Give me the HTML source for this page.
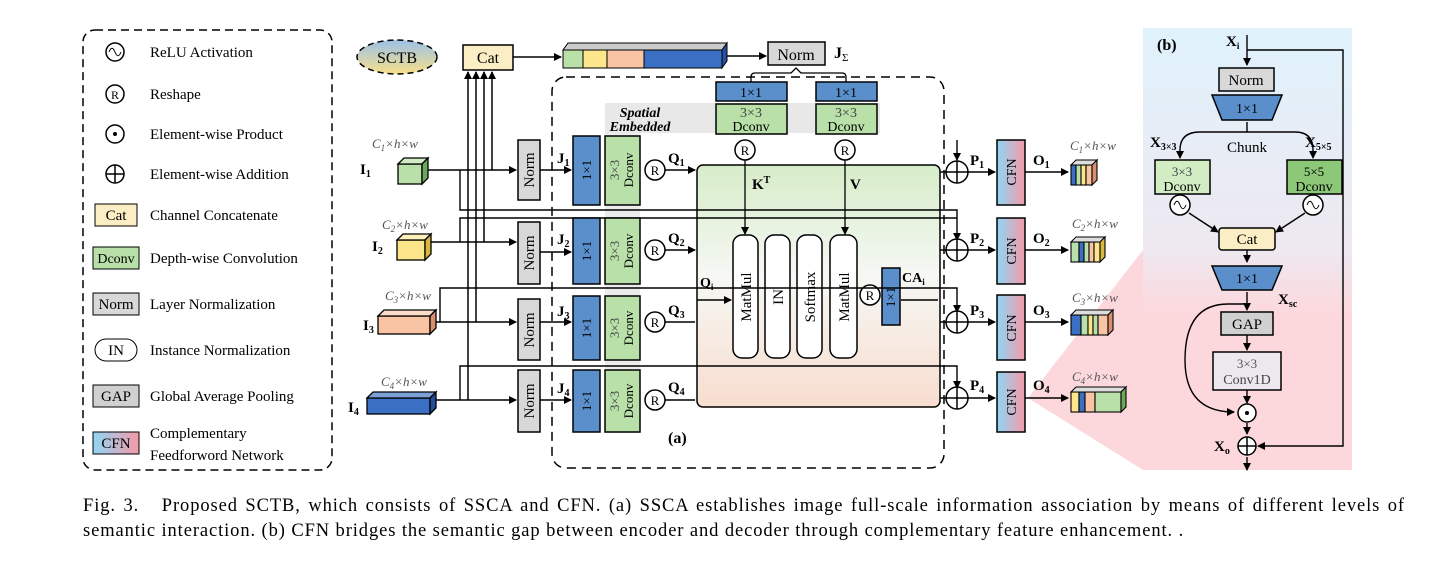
<!DOCTYPE html>
<html><head><meta charset="utf-8"><style>
body{margin:0;background:#fff;width:1437px;height:563px;overflow:hidden}
svg{font-family:"Liberation Serif",serif}
.cap{position:absolute;left:83px;width:1322px;font:18.5px "Liberation Serif",serif;letter-spacing:0.9px;color:#000;white-space:nowrap}
.l1{top:496px;text-align:justify;text-align-last:justify;white-space:normal}
.l2{top:521px}
</style></head><body>
<svg width="1437" height="563" viewBox="0 0 1437 563" style="position:absolute;left:0;top:0">
<defs>
<marker id="a" markerWidth="8" markerHeight="8" refX="7" refY="4" orient="auto" markerUnits="userSpaceOnUse"><path d="M0,0L8,4L0,8z" fill="#000"/></marker>
<linearGradient id="cfn" x1="0" x2="1"><stop offset="0" stop-color="#8fd6f5"/><stop offset="1" stop-color="#f59aa8"/></linearGradient>
<linearGradient id="inner" x1="0" y1="0" x2="0" y2="1"><stop offset="0" stop-color="#d6ecc8"/><stop offset="0.45" stop-color="#f6f8f4"/><stop offset="1" stop-color="#f8ddd0"/></linearGradient>
<linearGradient id="pb" x1="0" y1="0" x2="0" y2="1"><stop offset="0" stop-color="#dff2fc"/><stop offset="0.5" stop-color="#eee8f0"/><stop offset="0.65" stop-color="#fcd8dc"/><stop offset="1" stop-color="#fcd8dc"/></linearGradient>
<linearGradient id="sc" x1="0" y1="0" x2="0" y2="1"><stop offset="0" stop-color="#9cc0e8"/><stop offset="1" stop-color="#f7e08a"/></linearGradient>
</defs>
<rect x="1143" y="28" width="209" height="442" fill="url(#pb)"/>
<path d="M1028,398L1143,250V470z" fill="#fcd8dc"/>
<g stroke="#000" fill="none" stroke-width="1.5">
<rect x="83" y="30" width="249" height="440" rx="12" stroke-dasharray="8,5"/>
</g>
<g font-size="15">
<circle cx="115" cy="52" r="9" fill="none" stroke="#000" stroke-width="1.5"/><path d="M109,52c2,-5 4,-5 6,0s4,5 6,0" fill="none" stroke="#000"/>
<text x="150" y="57">ReLU Activation</text>
<circle cx="115" cy="94" r="9" fill="none" stroke="#000" stroke-width="1.5"/><text x="115" y="99" text-anchor="middle" font-size="12">R</text>
<text x="150" y="99">Reshape</text>
<circle cx="115" cy="134" r="9" fill="none" stroke="#000" stroke-width="1.5"/><circle cx="115" cy="134" r="2" fill="#000"/>
<text x="150" y="139">Element-wise Product</text>
<circle cx="115" cy="174" r="9" fill="none" stroke="#000" stroke-width="1.5"/><path d="M106,174h18M115,165v18" stroke="#000" stroke-width="1.5"/>
<text x="150" y="179">Element-wise Addition</text>
<rect x="95" y="204" width="42" height="22" fill="#fbeec4" stroke="#000"/><text x="116" y="220" text-anchor="middle">Cat</text>
<text x="150" y="220">Channel Concatenate</text>
<rect x="93" y="247" width="46" height="22" fill="#b8e0a8" stroke="#000"/><text x="116" y="263" text-anchor="middle" font-size="14">Dconv</text>
<text x="150" y="263">Depth-wise Convolution</text>
<rect x="93" y="293" width="46" height="22" fill="#d8d8d8" stroke="#000"/><text x="116" y="309" text-anchor="middle">Norm</text>
<text x="150" y="309">Layer Normalization</text>
<rect x="95" y="339" width="42" height="22" rx="11" fill="#fff" stroke="#000"/><text x="116" y="355" text-anchor="middle">IN</text>
<text x="150" y="355">Instance Normalization</text>
<rect x="93" y="385" width="46" height="22" fill="#d0d0d0" stroke="#000"/><text x="116" y="401" text-anchor="middle">GAP</text>
<text x="150" y="401">Global Average Pooling</text>
<rect x="93" y="432" width="46" height="22" fill="url(#cfn)" stroke="#000"/><text x="116" y="448" text-anchor="middle">CFN</text>
<text x="150" y="438">Complementary</text><text x="150" y="460">Feedforword Network</text>
</g>
<ellipse cx="397" cy="57" rx="40" ry="17" fill="url(#sc)" stroke="#000" stroke-width="1.5" stroke-dasharray="6,4"/>
<text x="397" y="63" text-anchor="middle" font-size="16">SCTB</text>
<rect x="463" y="45" width="50" height="25" fill="#fbeec4" stroke="#000" stroke-width="1.5"/><text x="488" y="63" text-anchor="middle" font-size="16">Cat</text>
<line x1="513" y1="57" x2="561" y2="57" stroke="#000" stroke-width="1.5" marker-end="url(#a)"/>
<path d="M563,50l5,-7h159l-5,7z" fill="#ccc" stroke="#000"/>
<rect x="563" y="50" width="20" height="18" fill="#b8e0a8" stroke="#000"/>
<rect x="583" y="50" width="24" height="18" fill="#fce58a" stroke="#000"/>
<rect x="607" y="50" width="37" height="18" fill="#f9c4a4" stroke="#000"/>
<rect x="644" y="50" width="78" height="18" fill="#3a6fc4" stroke="#000"/>
<path d="M722,50l5,-7v18l-5,7z" fill="#2850a0" stroke="#000"/>
<line x1="727" y1="56" x2="766" y2="56" stroke="#000" stroke-width="1.5" marker-end="url(#a)"/>
<rect x="768" y="42" width="57" height="23" fill="#d8d8d8" stroke="#000" stroke-width="1.5"/><text x="796" y="60" text-anchor="middle" font-size="16">Norm</text>
<text x="834" y="58" font-size="16" font-weight="bold">J<tspan font-size="11" font-weight="normal" dy="3">Σ</tspan></text>
<path d="M751,82v-5q0,-4 4,-4h36l5,-5l5,5h41q4,0 4,4v5" fill="none" stroke="#000" stroke-width="1.3"/>
<g stroke="#000" stroke-width="1.5" fill="none">
<path d="M468,400V72" marker-end="url(#a)"/>
<path d="M476,322V72" marker-end="url(#a)"/>
<path d="M484,242V72" marker-end="url(#a)"/>
<path d="M492,170V72" marker-end="url(#a)"/>
</g>
<rect x="552" y="77" width="392" height="391" rx="14" fill="none" stroke="#000" stroke-width="1.5" stroke-dasharray="9,6"/>
<rect x="605" y="103" width="275" height="30" fill="#e8e8e8"/>
<rect x="605" y="133" width="35" height="300" fill="#ececec"/>
<text x="640" y="117" font-size="14" font-style="italic" font-weight="bold" text-anchor="middle">Spatial</text>
<text x="640" y="131" font-size="14" font-style="italic" font-weight="bold" text-anchor="middle">Embedded</text>
<g font-size="14" text-anchor="middle">
<rect x="716" y="82" width="71" height="19" fill="#5b8fcc" stroke="#000" stroke-width="1.5"/><text x="751" y="97">1×1</text>
<rect x="816" y="82" width="61" height="19" fill="#5b8fcc" stroke="#000" stroke-width="1.5"/><text x="846" y="97">1×1</text>
<rect x="716" y="104" width="71" height="30" fill="#b8e0a8" stroke="#000" stroke-width="1.5"/><text x="751" y="117" fill="#444">3×3</text><text x="751" y="131">Dconv</text>
<rect x="816" y="104" width="61" height="30" fill="#b8e0a8" stroke="#000" stroke-width="1.5"/><text x="846" y="117" fill="#444">3×3</text><text x="846" y="131">Dconv</text>
</g>
<rect x="697" y="165" width="243" height="242" rx="6" fill="url(#inner)" stroke="#000" stroke-width="1.5"/>
<g stroke="#000" stroke-width="1.3" fill="none">
<path d="M745,160V234" marker-end="url(#a)"/><path d="M845,160V234" marker-end="url(#a)"/>
</g>
<g fill="#fff" stroke="#000" stroke-width="1.5">
<circle cx="745" cy="150" r="10"/><circle cx="845" cy="150" r="10"/>
<rect x="733" y="235" width="25" height="123" rx="9"/><rect x="765" y="235" width="25" height="123" rx="9"/>
<rect x="797" y="235" width="25" height="123" rx="9"/><rect x="830" y="235" width="27" height="123" rx="9"/>
<circle cx="870" cy="295" r="10"/>
</g>
<text x="745" y="155" text-anchor="middle" font-size="13">R</text><text x="845" y="155" text-anchor="middle" font-size="13">R</text><text x="870" y="300" text-anchor="middle" font-size="13">R</text>
<text x="752" y="189" font-size="15" font-weight="bold">K<tspan font-size="10" dy="-6">T</tspan></text>
<text x="850" y="189" font-size="15" font-weight="bold">V</text>
<g font-size="15" text-anchor="middle">
<text transform="translate(751,297) rotate(-90)">MatMul</text>
<text transform="translate(783,297) rotate(-90)">IN</text>
<text transform="translate(815,297) rotate(-90)">Softmax</text>
<text transform="translate(849,297) rotate(-90)">MatMul</text>
</g>
<rect x="882" y="268" width="18" height="57" fill="#5b8fcc" stroke="#000" stroke-width="1.5"/>
<text transform="translate(895,297) rotate(-90)" font-size="13" text-anchor="middle">1×1</text>
<text x="902" y="282" font-size="14" font-weight="bold">CA<tspan font-size="9" dy="3">i</tspan></text>
<text x="700" y="287" font-size="14" font-weight="bold">Q<tspan font-size="9" dy="3">i</tspan></text>
<g stroke="#000" stroke-width="1.4" fill="none">
<path d="M697,300H731" marker-end="url(#a)"/>
<path d="M901,300H938"/>
<path d="M460,170V210H957V240" marker-end="url(#a)"/>
<path d="M460,242V218H957"/>
<path d="M440,322V288H957V312" marker-end="url(#a)"/>
<path d="M460,400V366H957V388" marker-end="url(#a)"/>
<path d="M957,140V160" marker-end="url(#a)"/>
</g>
<g stroke="#000" stroke-width="1.4" fill="none">
<path d="M428,170H516" marker-end="url(#a)"/><path d="M540,170H571" marker-end="url(#a)"/><path d="M665,170H695" marker-end="url(#a)"/>
<path d="M428,242H516" marker-end="url(#a)"/><path d="M540,252H571" marker-end="url(#a)"/><path d="M665,250H695" marker-end="url(#a)"/>
<path d="M436,322H516" marker-end="url(#a)"/><path d="M540,322H571" marker-end="url(#a)"/><path d="M665,322H695"/>
<path d="M436,400H516" marker-end="url(#a)"/><path d="M540,400H571" marker-end="url(#a)"/><path d="M665,400H695"/>
<path d="M940,172H946M940,250H946M940,322H946M940,398H946"/>
<path d="M968,172H995" marker-end="url(#a)"/><path d="M968,250H995" marker-end="url(#a)"/><path d="M968,322H995" marker-end="url(#a)"/><path d="M968,398H995" marker-end="url(#a)"/>
<path d="M1025,172H1068" marker-end="url(#a)"/><path d="M1025,250H1068" marker-end="url(#a)"/><path d="M1025,322H1068" marker-end="url(#a)"/><path d="M1025,398H1068" marker-end="url(#a)"/>
</g>
<g font-size="15">
<g stroke="#000" stroke-width="1.5">
<rect x="518" y="140" width="22" height="60" fill="#d8d8d8"/><rect x="518" y="222" width="22" height="62" fill="#d8d8d8"/>
<rect x="518" y="299" width="22" height="61" fill="#d8d8d8"/><rect x="518" y="370" width="22" height="62" fill="#d8d8d8"/>
<rect x="573" y="136" width="27" height="69" fill="#5b8fcc"/><rect x="573" y="218" width="27" height="66" fill="#5b8fcc"/>
<rect x="573" y="296" width="27" height="64" fill="#5b8fcc"/><rect x="573" y="370" width="27" height="62" fill="#5b8fcc"/>
<rect x="605" y="136" width="35" height="69" fill="#b8e0a8"/><rect x="605" y="218" width="35" height="66" fill="#b8e0a8"/>
<rect x="605" y="296" width="35" height="64" fill="#b8e0a8"/><rect x="605" y="370" width="35" height="62" fill="#b8e0a8"/>
<g fill="#fff"><circle cx="655" cy="170" r="10"/><circle cx="655" cy="250" r="10"/><circle cx="655" cy="322" r="10"/><circle cx="655" cy="400" r="10"/></g>
<g fill="url(#cfn)"><rect x="997" y="140" width="28" height="65"/><rect x="997" y="218" width="28" height="66"/><rect x="997" y="295" width="28" height="65"/><rect x="997" y="372" width="28" height="60"/></g>
<g fill="#fff"><circle cx="957" cy="172" r="11"/><circle cx="957" cy="250" r="11"/><circle cx="957" cy="322" r="11"/><circle cx="957" cy="398" r="11"/></g>
<path d="M946,172h22M957,161v22M946,250h22M957,239v22M946,322h22M957,311v22M946,398h22M957,387v22" fill="none"/>
</g>
<g text-anchor="middle">
<text transform="translate(534,170) rotate(-90)">Norm</text><text transform="translate(534,253) rotate(-90)">Norm</text>
<text transform="translate(534,330) rotate(-90)">Norm</text><text transform="translate(534,401) rotate(-90)">Norm</text>
<text transform="translate(591,170) rotate(-90)" font-size="13">1×1</text><text transform="translate(591,251) rotate(-90)" font-size="13">1×1</text>
<text transform="translate(591,328) rotate(-90)" font-size="13">1×1</text><text transform="translate(591,401) rotate(-90)" font-size="13">1×1</text>
<g font-size="13"><text transform="translate(619,170) rotate(-90)" fill="#444">3×3</text><text transform="translate(633,170) rotate(-90)">Dconv</text>
<text transform="translate(619,251) rotate(-90)" fill="#444">3×3</text><text transform="translate(633,251) rotate(-90)">Dconv</text>
<text transform="translate(619,328) rotate(-90)" fill="#444">3×3</text><text transform="translate(633,328) rotate(-90)">Dconv</text>
<text transform="translate(619,401) rotate(-90)" fill="#444">3×3</text><text transform="translate(633,401) rotate(-90)">Dconv</text></g>
<g font-size="13"><text x="655" y="175">R</text><text x="655" y="255">R</text><text x="655" y="327">R</text><text x="655" y="405">R</text></g>
<g font-size="14"><text transform="translate(1016,172) rotate(-90)">CFN</text><text transform="translate(1016,251) rotate(-90)">CFN</text>
<text transform="translate(1016,328) rotate(-90)">CFN</text><text transform="translate(1016,402) rotate(-90)">CFN</text></g>
</g>
<g font-weight="bold" font-size="15">
<text x="557" y="163">J<tspan font-size="10" dy="3">1</tspan></text><text x="557" y="244">J<tspan font-size="10" dy="3">2</tspan></text>
<text x="557" y="316">J<tspan font-size="10" dy="3">3</tspan></text><text x="557" y="393">J<tspan font-size="10" dy="3">4</tspan></text>
<text x="668" y="163">Q<tspan font-size="10" dy="3">1</tspan></text><text x="668" y="243">Q<tspan font-size="10" dy="3">2</tspan></text>
<text x="668" y="315">Q<tspan font-size="10" dy="3">3</tspan></text><text x="668" y="392">Q<tspan font-size="10" dy="3">4</tspan></text>
<text x="970" y="165">P<tspan font-size="10" dy="3">1</tspan></text><text x="970" y="243">P<tspan font-size="10" dy="3">2</tspan></text>
<text x="970" y="315">P<tspan font-size="10" dy="3">3</tspan></text><text x="970" y="390">P<tspan font-size="10" dy="3">4</tspan></text>
<text x="1033" y="165">O<tspan font-size="10" dy="3">1</tspan></text><text x="1033" y="243">O<tspan font-size="10" dy="3">2</tspan></text>
<text x="1033" y="315">O<tspan font-size="10" dy="3">3</tspan></text><text x="1033" y="390">O<tspan font-size="10" dy="3">4</tspan></text>
<text x="360" y="174">I<tspan font-size="10" dy="3">1</tspan></text><text x="372" y="251">I<tspan font-size="10" dy="3">2</tspan></text>
<text x="363" y="330">I<tspan font-size="10" dy="3">3</tspan></text><text x="348" y="412">I<tspan font-size="10" dy="3">4</tspan></text>
<text x="668" y="443" font-size="16">(a)</text>
</g>
<g font-size="13" font-style="italic" fill="#555">
<text x="372" y="148">C<tspan font-size="9" dy="3">1</tspan><tspan dy="-3">×h×w</tspan></text>
<text x="382" y="229">C<tspan font-size="9" dy="3">2</tspan><tspan dy="-3">×h×w</tspan></text>
<text x="385" y="300">C<tspan font-size="9" dy="3">3</tspan><tspan dy="-3">×h×w</tspan></text>
<text x="381" y="386">C<tspan font-size="9" dy="3">4</tspan><tspan dy="-3">×h×w</tspan></text>
<text x="1070" y="150">C<tspan font-size="9" dy="3">1</tspan><tspan dy="-3">×h×w</tspan></text>
<text x="1072" y="228">C<tspan font-size="9" dy="3">2</tspan><tspan dy="-3">×h×w</tspan></text>
<text x="1072" y="302">C<tspan font-size="9" dy="3">3</tspan><tspan dy="-3">×h×w</tspan></text>
<text x="1072" y="381">C<tspan font-size="9" dy="3">4</tspan><tspan dy="-3">×h×w</tspan></text>
</g>
</g>
<g stroke="#000" stroke-width="1.3">
<rect x="398" y="164" width="24" height="20" fill="#b8e0a8"/><path d="M398,164l6,-6h24l-6,6z" fill="#d2ecc4"/><path d="M422,164l6,-6v20l-6,6z" fill="#6ca85a"/>
<rect x="397" y="240" width="28" height="20" fill="#fce58a"/><path d="M397,240l6,-6h28l-6,6z" fill="#fdf0b8"/><path d="M425,240l6,-6v20l-6,6z" fill="#d8b840"/>
<rect x="378" y="316" width="52" height="18" fill="#f9c4a4"/><path d="M378,316l6,-6h52l-6,6z" fill="#fbdcc8"/><path d="M430,316l6,-6v18l-6,6z" fill="#d89070"/>
<rect x="367" y="398" width="63" height="16" fill="#3a6fc4"/><path d="M367,398l6,-6h63l-6,6z" fill="#7ba0d8"/><path d="M430,398l6,-6v16l-6,6z" fill="#244c98"/>
</g>
<g stroke="#000" stroke-width="1.1">
<rect x="1071" y="165" width="5" height="20" fill="#3a6fc4"/><rect x="1076" y="165" width="5" height="20" fill="#b8e0a8"/><rect x="1081" y="165" width="5" height="20" fill="#fce58a"/><rect x="1086" y="165" width="6" height="20" fill="#f9c4a4"/><path d="M1071,165l5,-5h21l-5,5z" fill="#ddd"/><path d="M1092,165l5,-5v20l-5,5z" fill="#d89070"/>
<rect x="1071" y="242" width="8" height="20" fill="#b8e0a8"/><rect x="1079" y="242" width="5" height="20" fill="#3a6fc4"/><rect x="1084" y="242" width="5" height="20" fill="#b8e0a8"/><rect x="1089" y="242" width="5" height="20" fill="#f9c4a4"/><rect x="1094" y="242" width="6" height="20" fill="#fce58a"/><path d="M1071,242l5,-5h29l-5,5z" fill="#ddd"/><path d="M1100,242l5,-5v20l-5,5z" fill="#d8b840"/>
<rect x="1071" y="315" width="10" height="20" fill="#3a6fc4"/><rect x="1081" y="315" width="7" height="20" fill="#b8e0a8"/><rect x="1088" y="315" width="5" height="20" fill="#fce58a"/><rect x="1093" y="315" width="5" height="20" fill="#b8e0a8"/><rect x="1098" y="315" width="10" height="20" fill="#f9c4a4"/><path d="M1071,315l5,-5h37l-5,5z" fill="#ddd"/><path d="M1108,315l5,-5v20l-5,5z" fill="#d89070"/>
<rect x="1071" y="392" width="8" height="20" fill="#fce58a"/><rect x="1079" y="392" width="6" height="20" fill="#3a6fc4"/><rect x="1085" y="392" width="10" height="20" fill="#f9c4a4"/><rect x="1095" y="392" width="26" height="20" fill="#b8e0a8"/><path d="M1071,392l5,-5h50l-5,5z" fill="#ddd"/><path d="M1121,392l5,-5v20l-5,5z" fill="#6ca85a"/>
</g>
<g stroke="#000" stroke-width="1.4" fill="none">
<path d="M1247,35V65" marker-end="url(#a)"/>
<path d="M1247,50H1343V446H1258" marker-end="url(#a)"/>
<path d="M1247,122V132M1180,150Q1180,132 1200,132H1295Q1313,132 1313,150"/>
<path d="M1180,150V158" marker-end="url(#a)"/><path d="M1313,150V158" marker-end="url(#a)"/>
<path d="M1189,213L1218,232" marker-end="url(#a)"/><path d="M1305,213L1276,232" marker-end="url(#a)"/>
<path d="M1247,250V262" marker-end="url(#a)"/><path d="M1247,292V310" marker-end="url(#a)"/><path d="M1247,335V350" marker-end="url(#a)"/>
<path d="M1247,390V403" marker-end="url(#a)"/><path d="M1247,423V434" marker-end="url(#a)"/><path d="M1247,457V470" marker-end="url(#a)"/>
<path d="M1247,304H1228Q1185,304 1185,360Q1185,412 1234,412" marker-end="url(#a)"/>
</g>
<g stroke="#000" stroke-width="1.5">
<rect x="1219" y="68" width="55" height="23" fill="#d8d8d8"/>
<path d="M1212,95H1282L1272,120H1222z" fill="#5b8fcc"/>
<rect x="1155" y="160" width="55" height="34" fill="#d2ecc4"/>
<rect x="1287" y="160" width="55" height="34" fill="#8cc878"/>
<circle cx="1180" cy="205" r="10" fill="#fff"/><circle cx="1313" cy="205" r="10" fill="#fff"/>
<rect x="1219" y="228" width="56" height="22" rx="3" fill="#fbeec4"/>
<path d="M1212,266H1282L1272,290H1222z" fill="#5b8fcc"/>
<rect x="1221" y="312" width="52" height="23" fill="#d0d0d0"/>
<rect x="1213" y="352" width="68" height="38" fill="#ece8ee"/>
<circle cx="1247" cy="413" r="9" fill="#fff"/><circle cx="1247" cy="446" r="9" fill="#fff"/>
<path d="M1238,446h18M1247,437v18" fill="none"/>
</g>
<circle cx="1247" cy="413" r="2" fill="#000"/>
<path d="M1174,205c2,-5 4,-5 6,0s4,5 6,0M1307,205c2,-5 4,-5 6,0s4,5 6,0" fill="none" stroke="#000"/>
<g font-size="15" text-anchor="middle">
<text x="1246" y="85">Norm</text><text x="1247" y="113" font-size="14">1×1</text>
<text x="1247" y="152">Chunk</text>
<text x="1182" y="176" font-size="13" fill="#444">3×3</text><text x="1182" y="191" font-size="14">Dconv</text>
<text x="1314" y="176" font-size="13">5×5</text><text x="1314" y="191" font-size="14">Dconv</text>
<text x="1247" y="244">Cat</text><text x="1247" y="283" font-size="14">1×1</text>
<text x="1247" y="329">GAP</text>
<text x="1247" y="368" font-size="13" fill="#555">3×3</text><text x="1247" y="384" font-size="14" fill="#444">Conv1D</text>
</g>
<g font-weight="bold" font-size="15">
<text x="1157" y="50" font-size="16">(b)</text>
<text x="1226" y="46">X<tspan font-size="9" dy="3">i</tspan></text>
<text x="1150" y="147">X<tspan font-size="10" dy="3">3×3</tspan></text>
<text x="1305" y="147">X<tspan font-size="10" dy="3">5×5</tspan></text>
<text x="1278" y="304">X<tspan font-size="10" dy="3">sc</tspan></text>
<text x="1214" y="451">X<tspan font-size="10" dy="3">o</tspan></text>
</g>
</svg>
<div class="cap l1">Fig. 3.&nbsp;&nbsp; Proposed SCTB, which consists of SSCA and CFN. (a) SSCA establishes image full-scale information association by means of different levels of</div>
<div class="cap l2">semantic interaction. (b) CFN bridges the semantic gap between encoder and decoder through complementary feature enhancement. .</div>
</body></html>
